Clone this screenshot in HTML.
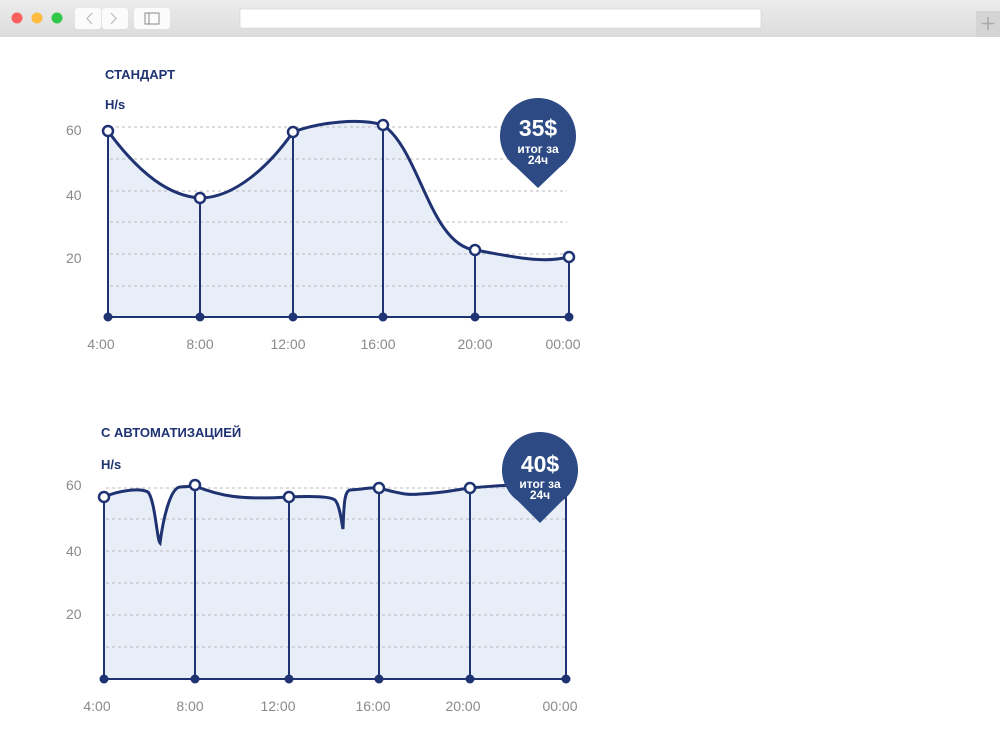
<!DOCTYPE html>
<html><head><meta charset="utf-8"><style>
body{margin:0;width:1000px;height:750px;background:#fff;overflow:hidden;font-family:"Liberation Sans",sans-serif}
</style></head><body>
<svg width="1000" height="750" viewBox="0 0 1000 750" xmlns="http://www.w3.org/2000/svg">
<defs><linearGradient id="tb" x1="0" y1="0" x2="0" y2="1"><stop offset="0" stop-color="#ececec"/><stop offset="1" stop-color="#dcdcdc"/></linearGradient></defs>
<rect x="0" y="0" width="1000" height="37" fill="url(#tb)"/>
<circle cx="17" cy="18" r="5.5" fill="#fc605c"/><circle cx="37" cy="18" r="5.5" fill="#fdbc40"/><circle cx="57" cy="18" r="5.5" fill="#34c84a"/>
<rect x="75" y="8" width="26" height="21" rx="3" fill="#fbfbfb"/><rect x="102" y="8" width="26" height="21" rx="3" fill="#fbfbfb"/>
<path d="M92 13 L87 18.5 L92 24" stroke="#bbb" fill="none" stroke-width="1.2"/><path d="M111 13 L116 18.5 L111 24" stroke="#bbb" fill="none" stroke-width="1.2"/>
<rect x="134" y="8" width="36" height="21" rx="3" fill="#fbfbfb"/><rect x="145" y="13" width="14" height="11" fill="none" stroke="#888" stroke-width="1"/><line x1="149" y1="13" x2="149" y2="24" stroke="#888"/>
<rect x="240" y="9" width="521" height="19" rx="2" fill="#fff" stroke="#ccc" stroke-width="0.6"/>
<rect x="976" y="11" width="24" height="26" fill="#d4d4d4"/><path d="M988 17v13M981.5 23.5h13" stroke="#aaa" stroke-width="1.5"/>

<g font-family="Liberation Sans, sans-serif">
<text x="105" y="79" font-size="13" font-weight="bold" fill="#1f3272">СТАНДАРТ</text>
<text x="105" y="109" font-size="13" font-weight="bold" fill="#1f3272">H/s</text>
<path d="M108 131 C140 175 170 196 200 198 C235 198 270 165 293 132 C320 122 360 118 383 125 C420 150 430 245 475 250 C510 256 540 264 569 257 L569 317 L108 317 Z" fill="#e8eef7"/>
<g stroke="#bbb" stroke-dasharray="3,3" stroke-width="1">
<line x1="110" y1="127" x2="567" y2="127"/><line x1="110" y1="159" x2="567" y2="159"/><line x1="110" y1="191" x2="567" y2="191"/><line x1="110" y1="222" x2="567" y2="222"/><line x1="110" y1="254" x2="567" y2="254"/><line x1="110" y1="286" x2="567" y2="286"/></g>
<path d="M108 131 C140 175 170 196 200 198 C235 198 270 165 293 132 C320 122 360 118 383 125 C420 150 430 245 475 250 C510 256 540 264 569 257" fill="none" stroke="#1f3272" stroke-width="3"/>
<g stroke="#1f3272" stroke-width="2"><line x1="108" y1="317" x2="569" y2="317"/><line x1="108" y1="131" x2="108" y2="317"/><line x1="200" y1="198" x2="200" y2="317"/><line x1="293" y1="132" x2="293" y2="317"/><line x1="383" y1="125" x2="383" y2="317"/><line x1="475" y1="250" x2="475" y2="317"/><line x1="569" y1="257" x2="569" y2="317"/></g>
<g fill="#fff" stroke="#1f3272" stroke-width="2.5"><circle cx="108" cy="131" r="5"/><circle cx="200" cy="198" r="5"/><circle cx="293" cy="132" r="5"/><circle cx="383" cy="125" r="5"/><circle cx="475" cy="250" r="5"/><circle cx="569" cy="257" r="5"/></g>
<g fill="#1f3272"><circle cx="108" cy="317" r="4.5"/><circle cx="200" cy="317" r="4.5"/><circle cx="293" cy="317" r="4.5"/><circle cx="383" cy="317" r="4.5"/><circle cx="475" cy="317" r="4.5"/><circle cx="569" cy="317" r="4.5"/></g>
<g font-size="14" fill="#8a8a8a"><text x="66" y="135">60</text><text x="66" y="200">40</text><text x="66" y="263">20</text>
<g text-anchor="middle"><text x="101" y="349">4:00</text><text x="200" y="349">8:00</text><text x="288" y="349">12:00</text><text x="378" y="349">16:00</text><text x="475" y="349">20:00</text><text x="563" y="349">00:00</text></g></g>
<path d="M538 98 A38 38 0 0 1 560 167 L538 188 L516 167 A38 38 0 0 1 538 98 Z" fill="#2d4a85"/>
<text x="538" y="136" text-anchor="middle" font-size="23" font-weight="bold" fill="#fff">35$</text>
<text x="538" y="153" text-anchor="middle" font-size="12" font-weight="bold" fill="#fff">итог за</text>
<text x="538" y="164" text-anchor="middle" font-size="12" font-weight="bold" fill="#fff">24ч</text>

<text x="101" y="437" font-size="13" font-weight="bold" fill="#1f3272">С АВТОМАТИЗАЦИЕЙ</text>
<text x="101" y="469" font-size="13" font-weight="bold" fill="#1f3272">H/s</text>
<path d="M104 497 C120 490 140 488 148 492 C155 500 157 540 160 543 C163 520 170 488 180 487 L195 486 C220 496 240 500 289 497 C310 496 330 496 335 500 C340 505 342 525 343 529 C344 500 345 491 350 490 C365 489 372 487 379 488 C405 495 410 495 420 494 C445 493 460 489 470 488 C500 485 540 484 566 484 L566 679 L104 679 Z" fill="#e8eef7"/>
<g stroke="#bbb" stroke-dasharray="3,3" stroke-width="1">
<line x1="106" y1="488" x2="566" y2="488"/><line x1="106" y1="519" x2="566" y2="519"/><line x1="106" y1="551" x2="566" y2="551"/><line x1="106" y1="583" x2="566" y2="583"/><line x1="106" y1="615" x2="566" y2="615"/><line x1="106" y1="647" x2="566" y2="647"/></g>
<path d="M104 497 C120 490 140 488 148 492 C155 500 157 540 160 543 C163 520 170 488 180 487 L195 486 C220 496 240 500 289 497 C310 496 330 496 335 500 C340 505 342 525 343 529 C344 500 345 491 350 490 C365 489 372 487 379 488 C405 495 410 495 420 494 C445 493 460 489 470 488 C500 485 540 484 566 484" fill="none" stroke="#1f3272" stroke-width="3"/>
<g stroke="#1f3272" stroke-width="2"><line x1="104" y1="679" x2="566" y2="679"/><line x1="104" y1="497" x2="104" y2="679"/><line x1="195" y1="485" x2="195" y2="679"/><line x1="289" y1="497" x2="289" y2="679"/><line x1="379" y1="488" x2="379" y2="679"/><line x1="470" y1="488" x2="470" y2="679"/><line x1="566" y1="484" x2="566" y2="679"/></g>
<g fill="#fff" stroke="#1f3272" stroke-width="2.5"><circle cx="104" cy="497" r="5"/><circle cx="195" cy="485" r="5"/><circle cx="289" cy="497" r="5"/><circle cx="379" cy="488" r="5"/><circle cx="470" cy="488" r="5"/></g>
<g fill="#1f3272"><circle cx="104" cy="679" r="4.5"/><circle cx="195" cy="679" r="4.5"/><circle cx="289" cy="679" r="4.5"/><circle cx="379" cy="679" r="4.5"/><circle cx="470" cy="679" r="4.5"/><circle cx="566" cy="679" r="4.5"/></g>
<g font-size="14" fill="#8a8a8a"><text x="66" y="490">60</text><text x="66" y="556">40</text><text x="66" y="619">20</text>
<g text-anchor="middle"><text x="97" y="711">4:00</text><text x="190" y="711">8:00</text><text x="278" y="711">12:00</text><text x="373" y="711">16:00</text><text x="463" y="711">20:00</text><text x="560" y="711">00:00</text></g></g>
<path d="M540 432 A38 38 0 0 1 562 501 L540 523 L518 501 A38 38 0 0 1 540 432 Z" fill="#2d4a85"/>
<text x="540" y="472" text-anchor="middle" font-size="23" font-weight="bold" fill="#fff">40$</text>
<text x="540" y="488" text-anchor="middle" font-size="12" font-weight="bold" fill="#fff">итог за</text>
<text x="540" y="499" text-anchor="middle" font-size="12" font-weight="bold" fill="#fff">24ч</text>
</g>
</svg>
</body></html>
